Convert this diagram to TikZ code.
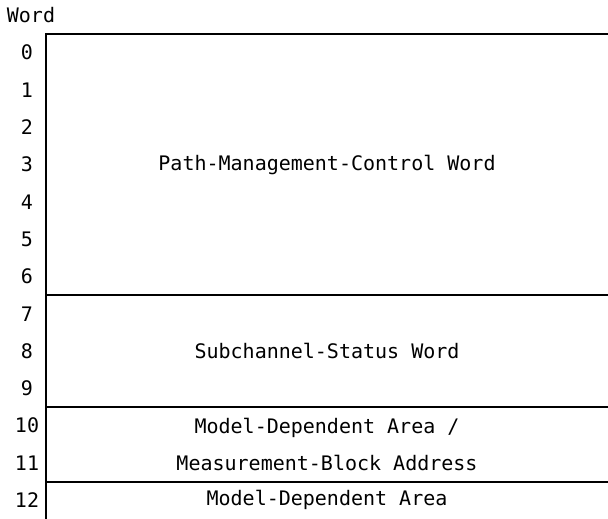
\documentclass[tikz,border=0pt]{standalone}
\usepackage{fontspec}
\usepackage{tikz}
\usetikzlibrary{positioning}
\setmonofont{DejaVu Sans Mono}

\begin{document}
\begin{tikzpicture}[x=0.5pt, y=-0.5pt, every node/.style={font=\ttfamily\fontsize{10}{18.65}\selectfont}]
  \tikzstyle{field}=[rectangle, inner sep=0pt, outer sep=0pt, minimum width=281pt, align=center]
  \tikzstyle{wordnum}=[inner sep=0pt]
  \tikzstyle{rule}=[line width=1pt, color=black]
  \useasboundingbox (0,0) rectangle (608,518);
  \node[inner sep=0pt] (wordhdr) at (31,15) {Word};
  \node[field, minimum height=7*18.65pt, anchor=north west] (pmcw) at (46,34) {Path-Management-Control Word};
  \node[field, minimum height=3*18.65pt, below=0pt of pmcw] (scsw) {Subchannel-Status Word};
  \node[field, minimum height=2*18.65pt, below=0pt of scsw] (mbaddr) {Model-Dependent Area /\\Measurement-Block Address};
  \node[field, minimum height=18.65pt, below=0pt of mbaddr] (mdarea) {Model-Dependent Area};
  \foreach \n in {0,...,12}
    \node[wordnum] (w\n) at (27, 52.65+\n*37.3) {\n};
  \draw[rule] (pmcw.north east) -- (pmcw.north west) -- (mdarea.south west);
  \draw[rule] (scsw.north west) -- (scsw.north east);
  \draw[rule] (mbaddr.north west) -- (mbaddr.north east);
  \draw[rule] (mdarea.north west) -- (mdarea.north east);
\end{tikzpicture}
\end{document}
